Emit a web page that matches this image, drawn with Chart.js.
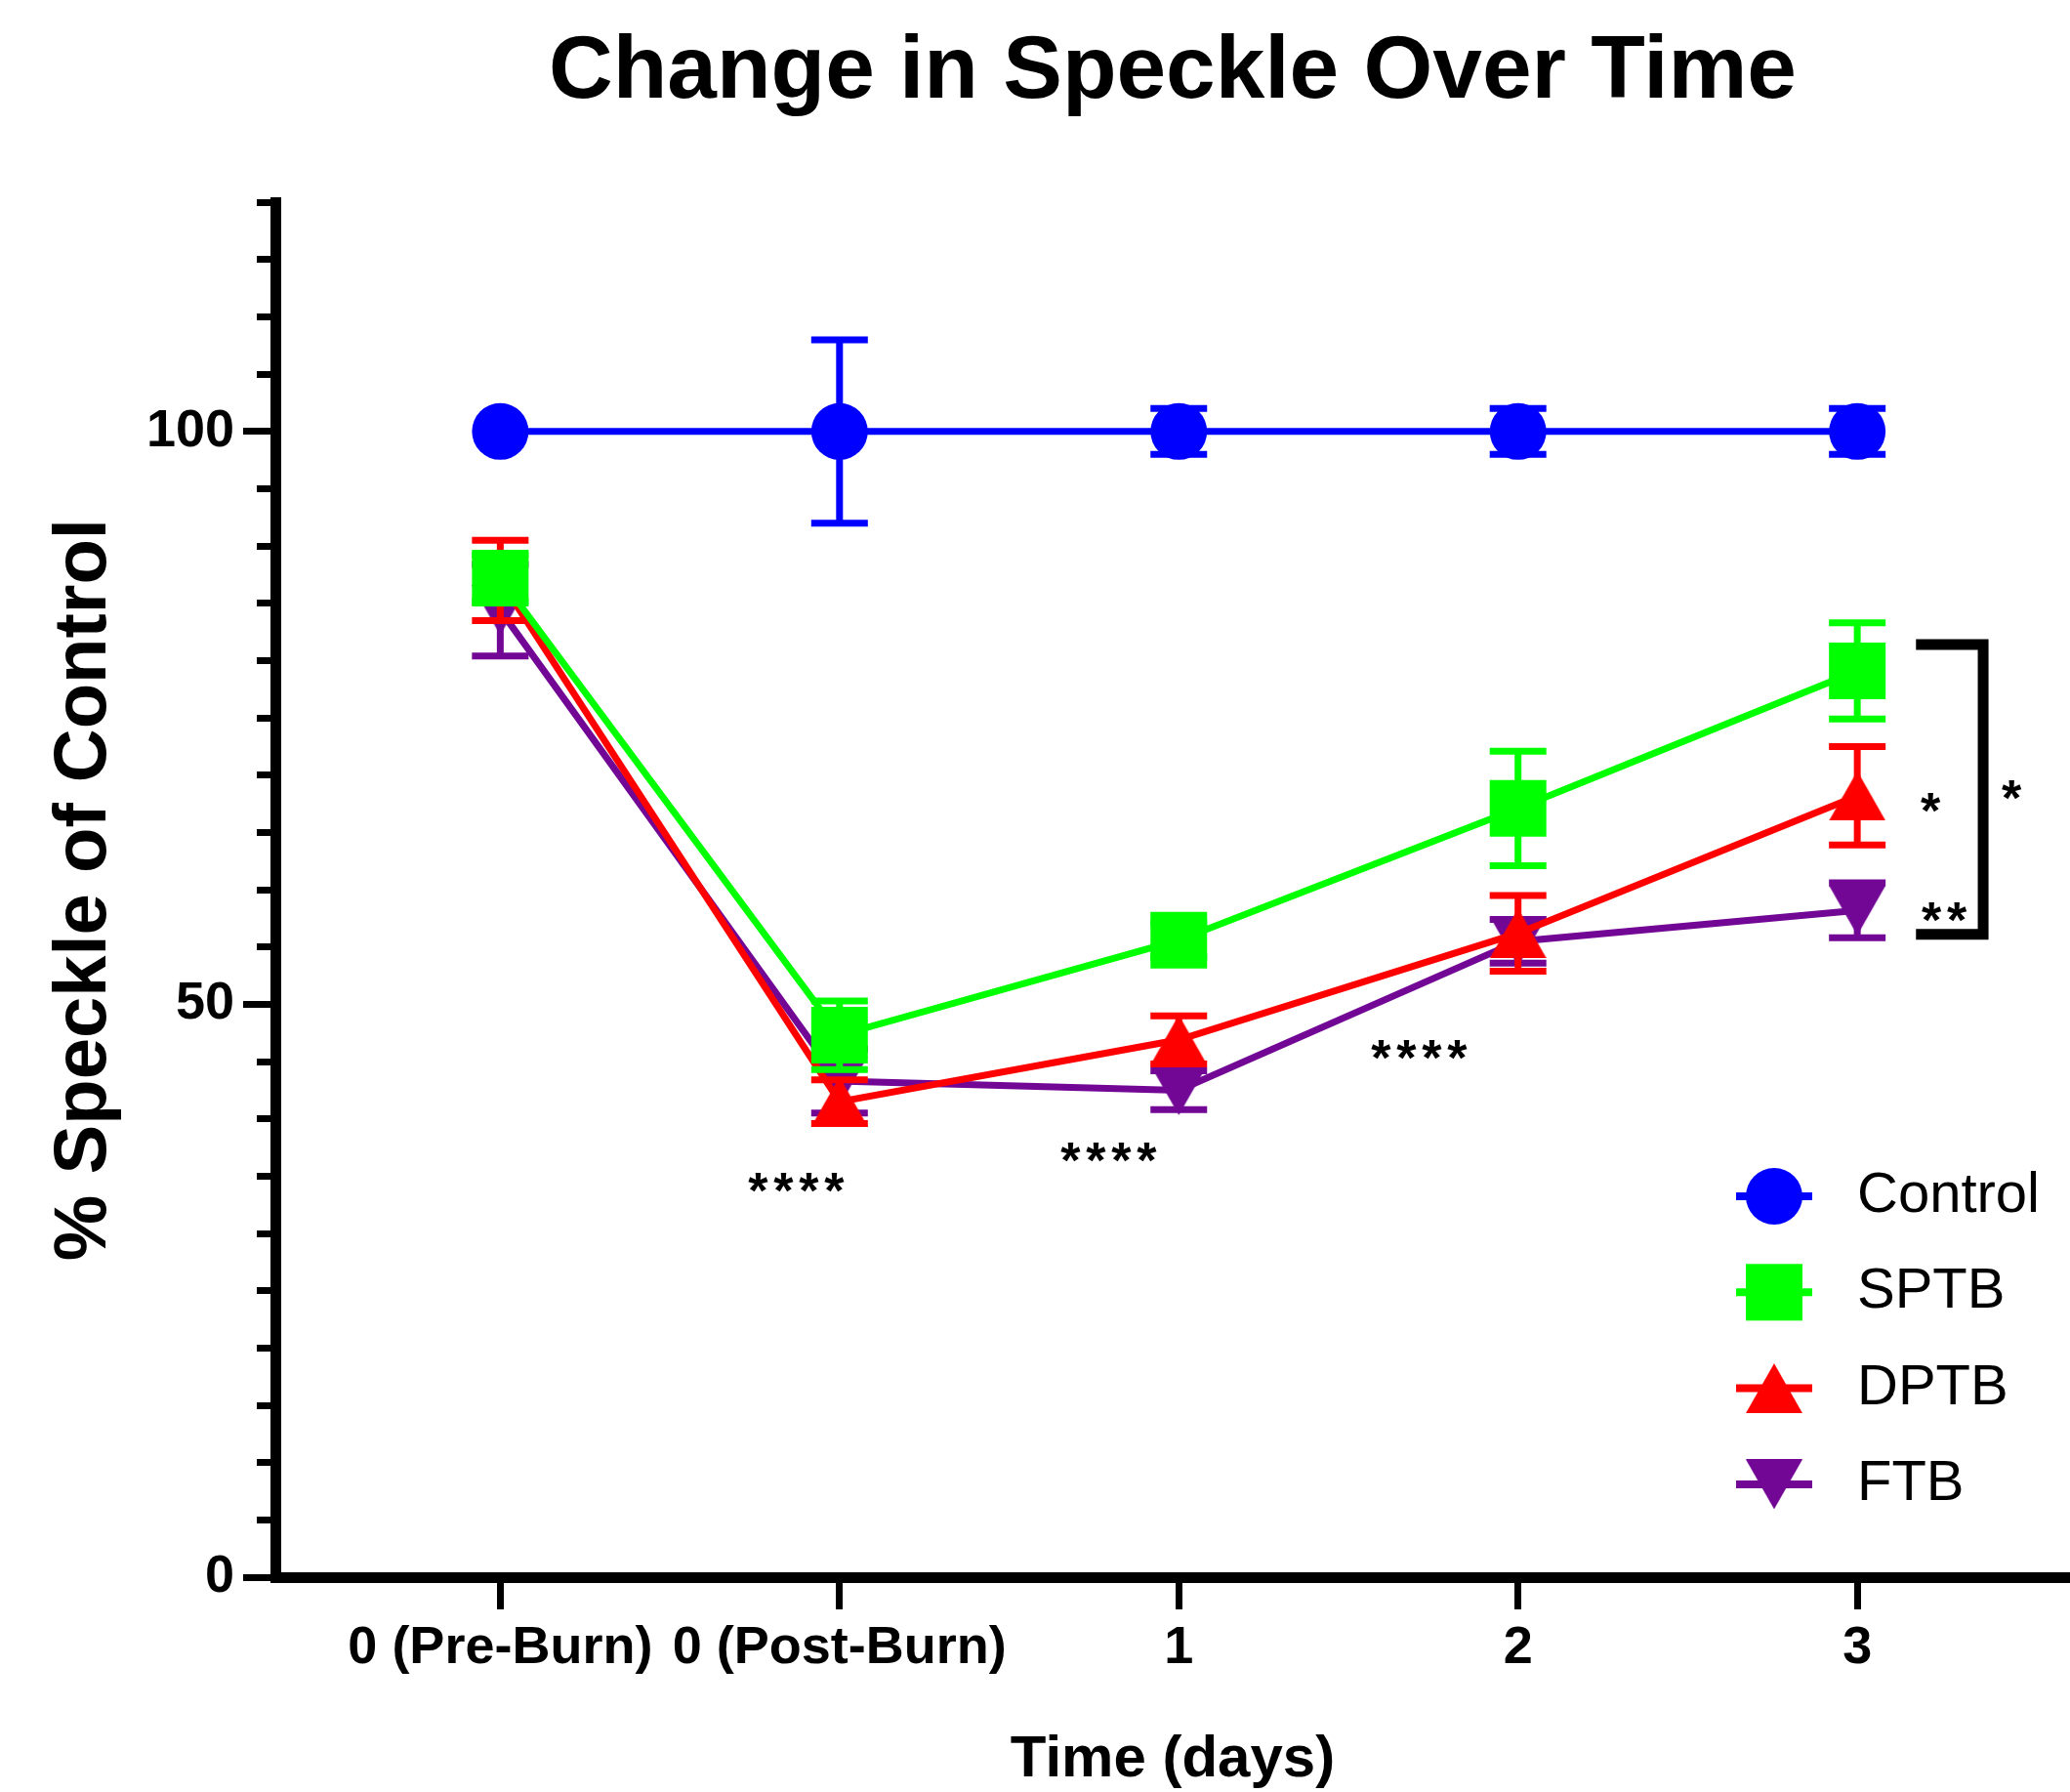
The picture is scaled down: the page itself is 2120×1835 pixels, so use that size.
<!DOCTYPE html>
<html>
<head>
<meta charset="utf-8">
<title>Change in Speckle Over Time</title>
<script src="https://cdn.jsdelivr.net/npm/chart.js"></script>
<style>
	html, body { margin: 0; padding: 0; background: #fff; }
	canvas { display: block; }
</style>
</head>
<body>
<canvas id="speckleChart" width="2120" height="1835"></canvas>
<script>
// === Data (mean % of control, +/- error) ===
const categories = ["0 (Pre-Burn)", "0 (Post-Burn)", "1", "2", "3"];
const groupNames = ["Control", "SPTB", "DPTB", "FTB"];

const controlMean = [100, 100, 100, 100, 100];
const controlErr = [0, 8.0, 2.0, 2.0, 2.0];
const sptbMean = [87.2, 47.3, 55.6, 67.1, 79.1];
const sptbErr = [2.0, 3.0, 1.5, 5.0, 4.2];
const dptbMean = [87.0, 41.5, 46.9, 56.2, 68.2];
const dptbErr = [3.5, 1.9, 2.1, 3.3, 4.3];
const ftbMean = [84.4, 43.3, 42.5, 55.5, 58.2];
const ftbErr = [4.0, 2.8, 1.7, 1.9, 2.4];

const yLabeled = [0, 50, 100];

// === Significance marks (placed in data units) ===
const sigMarks = [
	{ text: "****", x: 0.872, y: 34.8 },
	{ text: "****", x: 1.793, y: 37.4 },
	{ text: "****", x: 2.708, y: 46.4 },
	{ text: "*", x: 4.216, y: 67.9 },
	{ text: "**", x: 4.256, y: 58.4 },
	{ text: "*", x: 4.455, y: 69.0 },
];
const bracket = { x1: 4.173, x2: 4.371, yTop: 81.4, yBottom: 56.1 };

const FONT = "'Liberation Sans', Arial, Helvetica, sans-serif";
const colors = ["#0000ff", "#00ff00", "#ff0000", "#730795"];
const means = [controlMean, sptbMean, dptbMean, ftbMean];
const errs = [controlErr, sptbErr, dptbErr, ftbErr];

// === Marker images for the triangles (centred on their box like Prism) ===
function makeTriangle(color, down) {
	const c = document.createElement("canvas");
	c.width = 58;
	c.height = 51;
	const g = c.getContext("2d");
	g.fillStyle = color;
	g.beginPath();
	if (down) {
		g.moveTo(0, 0); g.lineTo(58, 0); g.lineTo(29, 51);
	} else {
		g.moveTo(29, 0); g.lineTo(58, 51); g.lineTo(0, 51);
	}
	g.closePath();
	g.fill();
	return c;
}

const triUp = makeTriangle(colors[2], false);
const triDown = makeTriangle(colors[3], true);
const pointStyles = ["circle", "rect", triUp, triDown];
const pointRadii = [29, 41, 29, 29];

// === Error bars, drawn under each dataset ===
const errorBars = {
	id: "errorBars",
	beforeDatasetDraw(chart, args) {
		const ctx = chart.ctx;
		const yScale = chart.scales.y;
		const i = args.index;
		ctx.save();
		ctx.strokeStyle = colors[i];
		ctx.lineWidth = 7;
		args.meta.data.forEach((pt, j) => {
			const e = errs[i][j];
			if (!e) return;
			const hi = yScale.getPixelForValue(means[i][j] + e);
			const lo = yScale.getPixelForValue(means[i][j] - e);
			ctx.beginPath();
			ctx.moveTo(pt.x, hi); ctx.lineTo(pt.x, lo);
			ctx.moveTo(pt.x - 29, hi); ctx.lineTo(pt.x + 29, hi);
			ctx.moveTo(pt.x - 29, lo); ctx.lineTo(pt.x + 29, lo);
			ctx.stroke();
		});
		ctx.restore();
	},
};

// === Asterisks + bracket ===
const sigPlugin = {
	id: "sigPlugin",
	afterDatasetsDraw(chart) {
		const ctx = chart.ctx;
		const xs = chart.scales.x;
		const ys = chart.scales.y;
		ctx.save();
		ctx.fillStyle = "#000";
		ctx.font = "bold 52px " + FONT;
		ctx.textAlign = "center";
		ctx.textBaseline = "alphabetic";
		sigMarks.forEach((m) => {
			const cx = xs.getPixelForValue(m.x);
			const cy = ys.getPixelForValue(m.y);
			const n = m.text.length;
			for (let k = 0; k < n; k++) {
				const px = cx + (k - (n - 1) / 2) * 26;
				ctx.fillText("*", px, cy + 0.575 * 52);
			}
		});

		const bx1 = xs.getPixelForValue(bracket.x1);
		const bx2 = xs.getPixelForValue(bracket.x2);
		const by1 = ys.getPixelForValue(bracket.yTop);
		const by2 = ys.getPixelForValue(bracket.yBottom);
		ctx.strokeStyle = "#000";
		ctx.lineWidth = 11;
		ctx.lineJoin = "miter";
		ctx.beginPath();
		ctx.moveTo(bx1, by1);
		ctx.lineTo(bx2, by1);
		ctx.lineTo(bx2, by2);
		ctx.lineTo(bx1, by2);
		ctx.stroke();
		ctx.restore();
	},
};

// === Legend inside the plot (bottom right) ===
const legendPlugin = {
	id: "legendPlugin",
	afterDraw(chart) {
		const ctx = chart.ctx;
		const mx = 1817;
		const y0 = 1225;
		const rowGap = 98.3;
		ctx.save();
		groupNames.forEach((name, i) => {
			const y = y0 + i * rowGap;
			ctx.strokeStyle = colors[i];
			ctx.fillStyle = colors[i];
			ctx.lineWidth = 8;
			ctx.beginPath();
			ctx.moveTo(mx - 39, y);
			ctx.lineTo(mx + 39, y);
			ctx.stroke();
			const st = pointStyles[i];
			if (st === "circle") {
				ctx.beginPath();
				ctx.arc(mx, y, 29, 0, Math.PI * 2);
				ctx.fill();
			} else if (st === "rect") {
				ctx.fillRect(mx - 29, y - 29, 58, 58);
			} else {
				ctx.drawImage(st, mx - st.width / 2, y - st.height / 2);
			}
			ctx.fillStyle = "#000";
			ctx.font = "58px " + FONT;
			ctx.textAlign = "left";
			ctx.textBaseline = "middle";
			ctx.fillText(name, 1902, y);
		});
		ctx.restore();
	},
};

// === Build chart ===
const datasets = groupNames.map((name, i) => ({
	label: name,
	data: means[i].map((v, j) => ({ x: j, y: v })),
	borderColor: colors[i],
	backgroundColor: colors[i],
	borderWidth: 7,
	tension: 0,
	pointStyle: pointStyles[i],
	pointRadius: pointRadii[i],
	pointHoverRadius: pointRadii[i],
	pointBorderWidth: 0,
	clip: false,
}));

new Chart(document.getElementById("speckleChart"), {
	type: "line",
	data: { datasets },
	plugins: [errorBars, sigPlugin, legendPlugin],
	options: {
		responsive: false,
		animation: false,
		devicePixelRatio: 1,
		// big markers would otherwise push the right edge in
		layout: { padding: 0, autoPadding: false },
		plugins: {
			legend: { display: false },
			tooltip: { enabled: false },
			title: {
				display: true,
				fullSize: false,
				text: "Change in Speckle Over Time",
				color: "#000",
				font: { family: FONT, size: 91, weight: "bold", lineHeight: 1.2 },
				padding: { top: 20, bottom: 78 },
			},
		},
		scales: {
			x: {
				type: "linear",
				min: -0.663,
				max: 4.627,
				afterBuildTicks: (s) => {
					s.ticks = categories.map((_, i) => ({ value: i }));
				},
				afterFit: (s) => {
					s.height = 220;
					s.paddingLeft = 0;
					s.paddingRight = 0;
				},
				ticks: {
					autoSkip: false,
					maxRotation: 0,
					padding: 8,
					color: "#000",
					font: { family: FONT, size: 54, weight: "bold" },
					callback: (v) => categories[v],
				},
				grid: {
					drawOnChartArea: false,
					tickLength: 33,
					tickWidth: 7,
					tickColor: "#000",
				},
				border: { color: "#000", width: 11 },
				title: {
					display: true,
					text: "Time (days)",
					color: "#000",
					font: { family: FONT, size: 60, weight: "bold", lineHeight: 1.1 },
					padding: { top: 0, bottom: 0 },
				},
			},
			y: {
				min: 0,
				max: 120,
				afterFit: (s) => {
					s.width = 282;
				},
				ticks: {
					stepSize: 5,
					autoSkip: false,
					padding: 9,
					color: "#000",
					font: { family: FONT, size: 54, weight: "bold" },
					callback: (v) => (yLabeled.includes(v) ? String(v) : ""),
				},
				grid: {
					drawOnChartArea: false,
					tickLength: 33,
					tickWidth: 7,
					tickColor: "#000",
					tickBorderDash: (c) =>
						c.tick && yLabeled.includes(c.tick.value) ? [] : [0, 14, 60],
				},
				border: { color: "#000", width: 11 },
				title: {
					display: true,
					text: "% Speckle of Control",
					color: "#000",
					font: { family: FONT, size: 76, weight: "bold" },
					padding: { top: 41, bottom: 0 },
				},
			},
		},
	},
});
</script>
</body>
</html>
